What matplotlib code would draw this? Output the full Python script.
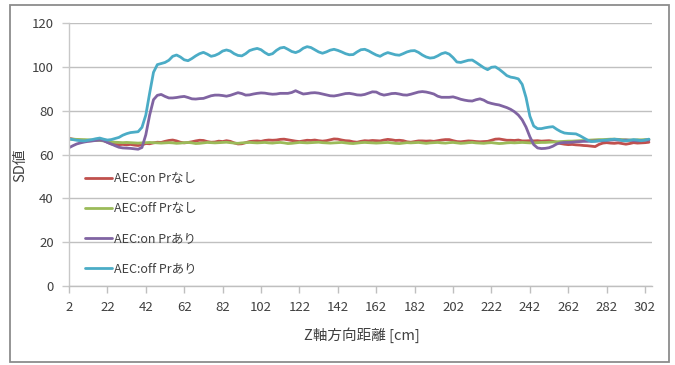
import numpy as np
import matplotlib
matplotlib.use("Agg")
import matplotlib.pyplot as plt
from matplotlib.patches import Rectangle

plt.rcParams['font.family'] = ['Noto Sans CJK JP', 'DejaVu Sans']

# Z position [cm], every 2 cm
z_cm = np.arange(2, 305, 2)

sd_aec_on_pr_none = [
    67.4, 67.0, 66.8, 66.6, 66.4, 66.2, 66.3, 66.5, 66.7, 66.4,
    65.6, 64.8, 64.6, 64.5, 64.6, 64.4, 64.6, 64.3, 64.1, 64.4,
    65.0, 64.9, 65.3, 65.6, 65.5, 66.0, 66.4, 66.6, 66.2, 65.6,
    65.3, 65.5, 65.8, 66.2, 66.5, 66.4, 65.9, 65.6, 65.7, 66.1,
    65.9, 66.3, 66.0, 65.3, 64.8, 64.9, 65.4, 65.9, 66.1, 66.2,
    66.0, 66.4, 66.6, 66.5, 66.6, 66.9, 67.0, 66.7, 66.4, 66.1,
    65.9, 66.2, 66.5, 66.4, 66.6, 66.3, 66.1, 66.3, 66.7, 67.1,
    67.0, 66.6, 66.3, 66.2, 65.8, 65.6, 66.0, 66.3, 66.2, 66.4,
    66.3, 66.2, 66.6, 66.9, 66.7, 66.4, 66.5, 66.3, 65.8, 65.6,
    65.9, 66.2, 66.2, 66.1, 66.2, 66.0, 66.3, 66.6, 66.8, 66.8,
    66.3, 65.9, 65.8, 66.0, 66.2, 66.1, 65.9, 65.8, 65.9, 66.0,
    66.5, 67.0, 67.1, 66.8, 66.5, 66.5, 66.4, 66.6, 66.2, 66.2,
    66.3, 66.2, 66.3, 66.1, 66.2, 66.3, 66.0, 65.6, 65.0, 64.7,
    64.5, 64.6, 64.4, 64.3, 64.1, 64.0, 63.8, 63.6, 64.6, 65.2,
    65.4, 65.2, 65.1, 65.3, 65.0, 64.7, 65.0, 65.4, 65.2, 65.3,
    65.4, 65.6,
]

sd_aec_off_pr_none = [
    67.0, 67.0, 66.9, 66.8, 66.8, 66.7, 66.6, 66.5, 66.4, 66.2,
    66.0, 65.8, 65.6, 65.5, 65.4, 65.5, 65.4, 65.3, 65.2, 65.3,
    65.4, 65.5, 65.4, 65.3, 65.2, 65.3, 65.4, 65.3, 65.1, 65.2,
    65.4, 65.5, 65.3, 65.0, 65.1, 65.3, 65.5, 65.4, 65.3, 65.4,
    65.5, 65.6, 65.4, 65.2, 65.1, 65.3, 65.4, 65.5, 65.4, 65.3,
    65.4, 65.5, 65.3, 65.2, 65.4, 65.5, 65.3, 65.0, 65.1, 65.3,
    65.5, 65.4, 65.3, 65.4, 65.5, 65.6, 65.4, 65.3, 65.2, 65.3,
    65.4, 65.5, 65.3, 65.1, 65.0, 65.2, 65.4, 65.5, 65.4, 65.3,
    65.2, 65.3, 65.4, 65.5, 65.3, 65.1, 65.0, 65.2, 65.4, 65.3,
    65.4, 65.5, 65.3, 65.1, 65.3, 65.4, 65.5, 65.3, 65.2, 65.4,
    65.5, 65.3, 65.1, 65.2, 65.4, 65.5, 65.3, 65.2, 65.1, 65.3,
    65.4, 65.2, 65.0, 65.1, 65.3, 65.4, 65.3, 65.4, 65.5, 65.4,
    65.3, 65.3, 65.4, 65.5, 65.5, 65.6, 65.7, 65.8, 65.9, 66.0,
    66.1, 66.1, 66.2, 66.3, 66.4, 66.5, 66.6, 66.7, 66.8, 66.8,
    66.9, 67.0, 67.0, 66.9, 66.8, 66.7, 66.6, 66.6, 66.7, 66.7,
    66.8, 66.8,
]

sd_aec_on_pr_with = [
    63.1, 64.0, 64.8, 65.3, 65.7, 66.0, 66.2, 66.4, 66.6, 66.3,
    65.5, 64.8, 64.0, 63.3, 63.0, 62.9, 62.8, 62.6, 62.4, 63.2,
    69.0, 78.0, 85.0, 87.0, 87.4, 86.5, 85.8, 85.8, 86.0, 86.3,
    86.5, 86.0, 85.4, 85.3, 85.5, 85.6, 86.2, 86.8, 87.1, 87.1,
    86.9, 86.6, 87.0, 87.6, 88.2, 87.8, 87.1, 87.2, 87.6, 87.9,
    88.1, 88.0, 87.7, 87.5, 87.6, 87.9, 87.9, 87.9, 88.3, 89.1,
    88.3, 87.6, 87.8, 88.1, 88.2, 88.0, 87.6, 87.2, 86.8, 86.7,
    87.0, 87.4, 87.8, 87.9, 87.6, 87.2, 87.1, 87.4, 88.0, 88.6,
    88.5, 87.6, 87.1, 87.4, 87.8, 87.9, 87.6, 87.2, 87.1, 87.5,
    88.0, 88.5, 88.7, 88.5, 88.1, 87.6, 86.6, 86.1, 86.1, 86.1,
    86.3, 85.8, 85.2, 84.8, 84.5, 84.4, 85.0, 85.4, 84.8, 83.8,
    83.3, 82.9, 82.6, 82.0, 81.4, 80.6, 79.5, 78.0, 75.8, 72.5,
    68.1, 64.5, 63.0, 62.7, 62.8, 63.1, 63.8, 64.8, 65.3, 65.5,
    65.5, 65.6, 65.8, 65.9, 66.0, 66.0, 66.1, 66.2, 66.2, 66.3,
    66.4, 66.6, 66.7, 66.6, 66.5, 66.6, 66.5, 66.3, 66.2, 66.3,
    66.5, 66.6,
]

sd_aec_off_pr_with = [
    67.1, 66.8, 66.5, 66.3, 66.2, 66.5, 66.8, 67.2, 67.5, 67.0,
    66.6, 66.8, 67.3, 67.8, 68.8, 69.5, 70.0, 70.2, 70.4, 72.4,
    78.0, 88.0, 97.5, 101.0, 101.5, 102.0, 103.0, 104.8, 105.4, 104.5,
    103.2, 102.8, 103.8, 105.0, 106.0, 106.6, 105.8, 104.8, 105.2, 106.0,
    107.2, 107.7, 107.2, 106.0, 105.2, 105.0, 106.0, 107.4, 108.0, 108.4,
    107.8, 106.5, 105.5, 106.0, 107.5, 108.6, 108.9, 108.0, 107.0, 106.5,
    107.2, 108.5, 109.2, 108.8, 107.8, 106.8, 106.2, 106.8, 107.6, 108.0,
    107.5, 106.8, 106.0, 105.5, 105.6, 106.8, 107.8, 108.0, 107.3, 106.3,
    105.4, 104.8, 105.8, 106.5, 106.0, 105.5, 105.3, 106.0, 106.8, 107.3,
    107.4, 106.6, 105.4, 104.5, 104.0, 104.2, 105.0, 106.0, 106.5, 105.8,
    104.2, 102.2, 102.0, 102.5, 103.0, 103.1, 102.0, 100.8, 99.6, 98.7,
    99.8, 100.0, 98.9, 97.5, 96.0, 95.3, 95.0, 94.5, 92.0, 86.0,
    77.5, 73.0, 71.8, 71.8, 72.2, 72.5, 72.7, 71.5, 70.5, 69.8,
    69.6, 69.5, 69.4, 68.6, 67.6, 66.6, 65.9, 66.0, 66.3, 66.5,
    66.6, 66.8, 67.0, 66.8, 66.4, 66.2, 66.5, 66.8, 66.6, 66.3,
    66.6, 67.0,
]

series = [
    ("AEC:on Prなし", sd_aec_on_pr_none, "#C0504D"),
    ("AEC:off Prなし", sd_aec_off_pr_none, "#9BBB59"),
    ("AEC:on Prあり", sd_aec_on_pr_with, "#8064A2"),
    ("AEC:off Prあり", sd_aec_off_pr_with, "#4BACC6"),
]

x_ticks = list(range(2, 303, 20))
y_ticks = [0, 20, 40, 60, 80, 100, 120]

fig = plt.figure(figsize=(6.75, 3.65), dpi=100)
ax = fig.add_axes([69 / 675, (365 - 286) / 365, 583 / 675, 263 / 365])

for label, values, color in series:
    ax.plot(z_cm, values, color=color, lw=2.0, label=label,
            solid_joinstyle="round", solid_capstyle="round")

ax.set_xlim(2, 305.6)
ax.set_ylim(0, 120)
ax.set_xticks(x_ticks)
ax.set_yticks(y_ticks)

ax.yaxis.grid(True, color="#C0C0C0", lw=1.0)
ax.set_axisbelow(True)
for side in ("top", "right"):
    ax.spines[side].set_visible(False)
ax.spines["left"].set_color("#C8C8C8")
ax.spines["bottom"].set_color("#BFBFBF")
ax.spines["left"].set_linewidth(1.0)
ax.spines["bottom"].set_linewidth(1.0)

ax.tick_params(axis="x", direction="out", length=5, width=1.0, color="#BFBFBF",
               labelsize=9.5, labelcolor="#404040", pad=6)
ax.tick_params(axis="y", direction="out", length=5, width=1.0, color="#C8C8C8",
               labelsize=9.5, labelcolor="#404040", pad=6)

ax.set_xlabel("Z軸方向距離 [cm]", fontsize=10.5, color="#404040")
ax.xaxis.set_label_coords((362 - 69) / 583, (286 - 335) / 263)
ax.set_ylabel("SD値", fontsize=10.5, color="#404040")
ax.yaxis.set_label_coords((20 - 69) / 583, (286 - 165) / 263)
ax.xaxis.label.set_verticalalignment("center")
ax.yaxis.label.set_verticalalignment("center")

leg = ax.legend(loc="upper left", bbox_to_anchor=(0.027, 0.432), frameon=False,
                fontsize=9, handlelength=2.2, handletextpad=0.15,
                labelspacing=1.35, borderpad=0, borderaxespad=0)
for t in leg.get_texts():
    t.set_color("#404040")

fig.patches.append(Rectangle((10 / 675, 3 / 365), 659 / 675, 357 / 365,
                             transform=fig.transFigure, fill=False,
                             edgecolor="#8C8C8C", lw=1.3))

fig.savefig("out.png", dpi=100)
